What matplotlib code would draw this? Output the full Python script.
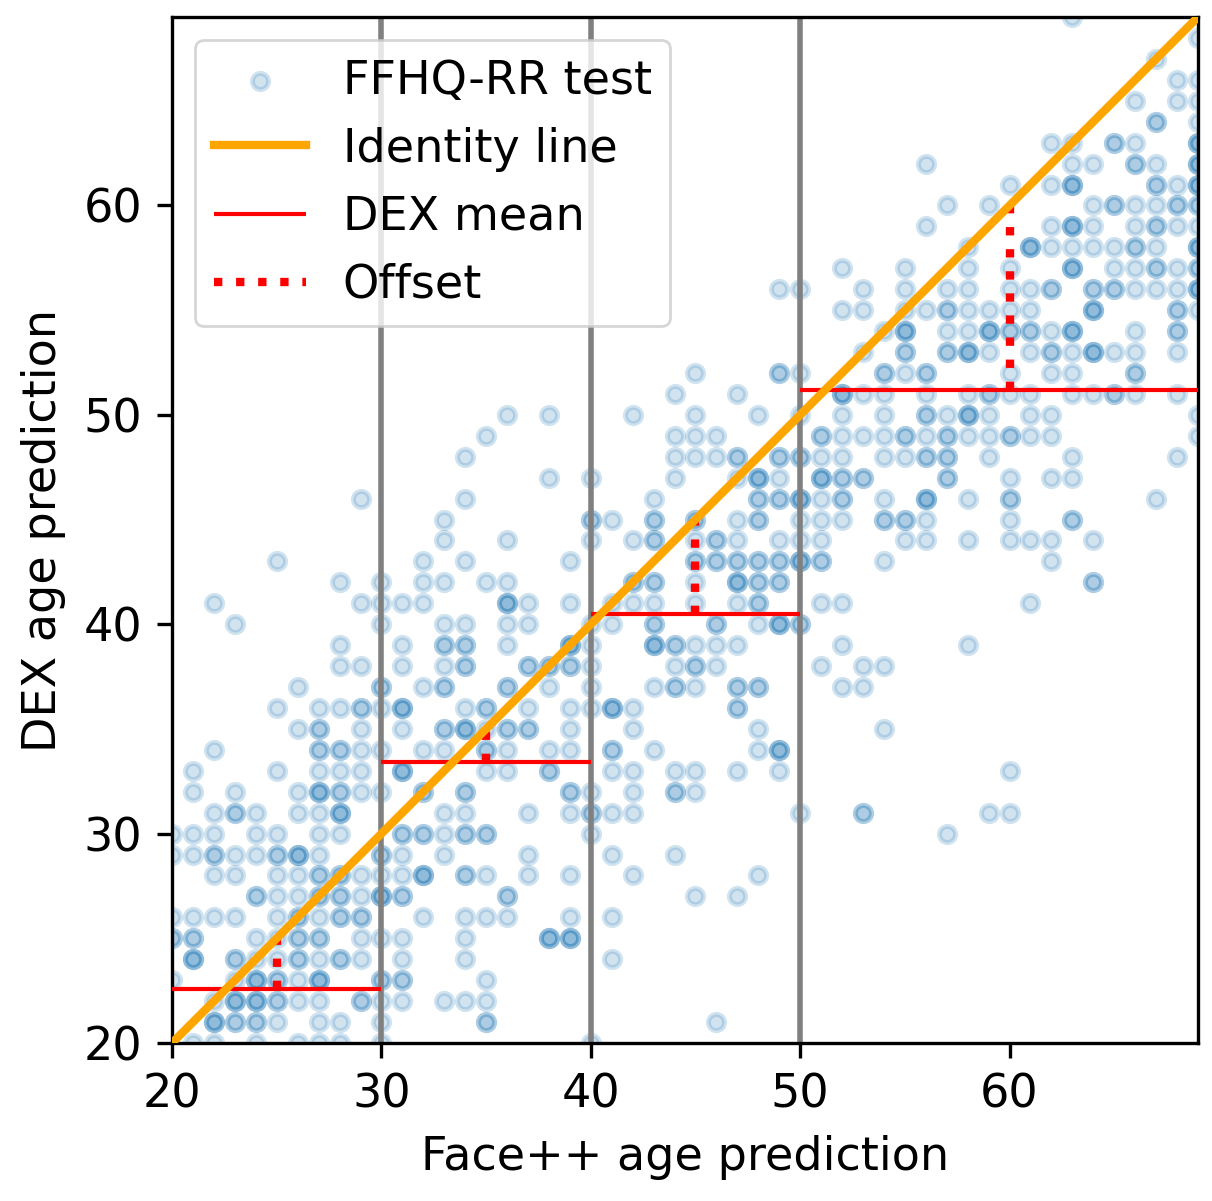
import numpy as np
import matplotlib
matplotlib.use("Agg")
import matplotlib.pyplot as plt

# DEX age values (rows) and the Face++ ages observed at each (repeats = overlapping points)
dex_values = [69, 68, 67, 66, 65, 64, 63, 62, 61, 60, 59, 58, 57, 56, 55, 54, 53,
              52, 51, 50, 49, 48, 47, 46, 45, 44, 43, 42, 41, 40, 39, 38, 37,
              36, 35, 34, 33, 32, 31, 30, 29, 28, 27, 26, 25, 24, 23, 22, 21, 20]
face_pp_by_dex = [
    [63],
    [69],
    [67],
    [68, 69],
    [66, 68, 69],
    [67, 67, 69],
    [62, 63, 65, 65, 66, 69, 69, 69],
    [56, 63, 64, 66, 66, 67, 69, 69, 69],
    [60, 62, 63, 63, 63, 67, 67, 68, 69, 69, 69],
    [57, 59, 64, 65, 65, 66, 67, 68, 68, 69, 69],
    [56, 62, 63, 63, 63, 64, 66, 67, 67, 68, 69],
    [58, 61, 61, 61, 62, 63, 64, 65, 66, 66, 67, 69, 69, 69],
    [52, 55, 58, 60, 63, 63, 63, 65, 66, 67, 67, 68, 69, 69],
    [49, 50, 53, 55, 57, 58, 60, 61, 62, 62, 64, 64, 65, 65, 66, 67, 68, 69, 69, 69],
    [52, 53, 55, 56, 57, 57, 58, 59, 60, 61, 64, 64, 64, 68, 68, 69],
    [54, 55, 55, 55, 57, 58, 59, 59, 59, 60, 60, 61, 61, 62, 63, 63, 63, 66, 68, 68],
    [53, 55, 55, 57, 57, 58, 58, 58, 59, 61, 62, 62, 63, 64, 64, 64, 65, 66, 68],
    [45, 49, 49, 50, 54, 54, 55, 56, 56, 60, 62, 63, 66, 66],
    [44, 47, 52, 52, 52, 53, 54, 56, 58, 59, 59, 60, 61, 63, 64, 65, 65, 66, 68],
    [36, 38, 42, 45, 48, 50, 52, 54, 56, 56, 57, 58, 58, 58, 59, 61, 62, 69],
    [35, 44, 45, 46, 51, 51, 52, 53, 54, 55, 55, 56, 57, 57, 58, 59, 60, 60, 61, 62, 69],
    [34, 44, 45, 46, 47, 47, 49, 49, 50, 50, 51, 52, 54, 55, 56, 56, 57, 57, 59, 63, 68],
    [38, 40, 44, 47, 48, 48, 48, 49, 51, 51, 51, 52, 52, 53, 53, 57, 57, 60, 62, 63],
    [29, 34, 43, 48, 48, 49, 49, 50, 50, 50, 51, 52, 52, 54, 56, 56, 56, 58, 60, 60, 67],
    [33, 40, 40, 41, 43, 43, 45, 45, 47, 48, 48, 50, 51, 52, 54, 54, 55, 55, 56, 60, 63, 63],
    [33, 36, 40, 42, 43, 43, 45, 46, 46, 47, 49, 50, 51, 55, 56, 58, 60, 61, 62, 64],
    [25, 32, 34, 39, 45, 45, 46, 46, 47, 47, 48, 48, 49, 49, 50, 50, 50, 51, 51, 54, 62],
    [28, 30, 32, 33, 35, 36, 42, 42, 43, 43, 45, 47, 47, 47, 48, 48, 49, 49, 64, 64],
    [22, 29, 30, 31, 32, 36, 36, 36, 37, 39, 41, 42, 43, 45, 47, 48, 48, 51, 52, 61],
    [23, 30, 33, 34, 36, 37, 40, 41, 43, 43, 46, 46, 48, 49, 49, 49, 50, 50],
    [28, 31, 33, 33, 34, 34, 36, 39, 39, 39, 40, 43, 43, 43, 44, 44, 45, 46, 47, 52, 58],
    [28, 29, 31, 33, 34, 34, 37, 37, 38, 38, 39, 39, 40, 44, 45, 45, 46, 51, 53, 54],
    [26, 30, 30, 32, 33, 33, 36, 36, 38, 40, 43, 44, 44, 45, 47, 47, 48, 48, 52, 53],
    [25, 27, 28, 29, 29, 30, 31, 31, 31, 34, 35, 35, 37, 39, 40, 41, 41, 41, 42, 47, 47],
    [26, 27, 27, 29, 31, 33, 33, 34, 34, 34, 35, 36, 36, 37, 37, 39, 42, 48, 54],
    [22, 27, 27, 28, 28, 29, 30, 32, 33, 35, 35, 36, 38, 39, 41, 41, 43, 48, 49, 49, 49],
    [21, 25, 27, 28, 29, 31, 31, 31, 35, 36, 38, 38, 41, 42, 44, 45, 47, 49, 60],
    [21, 23, 26, 27, 27, 27, 28, 28, 29, 30, 32, 32, 34, 34, 39, 39, 40, 42, 44, 44, 45],
    [22, 23, 23, 24, 26, 27, 28, 28, 28, 33, 34, 37, 39, 40, 40, 41, 42, 50, 53, 53, 59, 60],
    [20, 21, 22, 24, 25, 27, 28, 31, 31, 32, 32, 33, 34, 34, 35, 35, 40, 57],
    [20, 21, 22, 22, 23, 24, 25, 25, 26, 26, 26, 27, 30, 30, 31, 33, 37, 41, 44],
    [22, 23, 25, 26, 27, 27, 28, 28, 29, 30, 31, 32, 32, 32, 34, 34, 35, 37, 39, 42, 48],
    [24, 24, 25, 26, 27, 27, 28, 28, 29, 30, 30, 30, 31, 31, 36, 36, 45, 47],
    [20, 21, 22, 23, 25, 26, 26, 27, 28, 28, 29, 29, 32, 34, 35, 36, 39, 41],
    [20, 20, 21, 21, 24, 25, 26, 26, 27, 27, 29, 30, 31, 34, 38, 38, 38, 39, 39, 39],
    [21, 21, 21, 23, 23, 24, 25, 26, 26, 27, 28, 28, 29, 31, 34, 41],
    [20, 23, 24, 24, 24, 25, 25, 26, 27, 27, 27, 30, 30, 31, 31, 35],
    [22, 23, 23, 23, 24, 24, 24, 25, 25, 26, 27, 29, 29, 30, 31, 33, 34, 35],
    [22, 22, 22, 23, 23, 24, 24, 25, 27, 28, 30, 35, 35, 46],
    [21, 22, 24, 26, 27, 28, 30, 40],
]

# binned DEX means and where the offset to the identity line is measured
bin_edges = [20, 30, 40, 50, 69]
dex_means = [22.6, 33.4, 40.5, 51.2]
offset_at = [25, 35, 45, 60]

face_pp = []
dex = []
for d, row in zip(dex_values, face_pp_by_dex):
    face_pp += row
    dex += [d] * len(row)
face_pp = np.array(face_pp)
dex = np.array(dex)

plt.rcParams["font.size"] = 16.6
plt.rcParams["axes.linewidth"] = 1.2
plt.rcParams["axes.labelpad"] = 6.2
for a in ("xtick", "ytick"):
    plt.rcParams[a + ".major.size"] = 5.4
    plt.rcParams[a + ".major.width"] = 1.2
    plt.rcParams[a + ".major.pad"] = 5.4

fig, ax = plt.subplots(figsize=(6.06, 6.005), dpi=200)
fig.subplots_adjust(left=0.142, right=0.9884, bottom=0.1316, top=0.9858)

ax.scatter(face_pp, dex, s=34, alpha=0.2, color="C0", linewidths=1.8,
           label="FFHQ-RR test")

for e in bin_edges[1:-1]:
    ax.axvline(e, color="gray", lw=2)

ax.plot([20, 69], [20, 69], color="orange", lw=3, label="Identity line", zorder=4)

for i in range(len(dex_means)):
    ax.hlines(dex_means[i], bin_edges[i], bin_edges[i + 1], color="red", lw=1.5,
              label="DEX mean" if i == 0 else None, zorder=3)
    ax.vlines(offset_at[i], dex_means[i], offset_at[i], color="red", lw=3,
              linestyles=":", label="Offset" if i == 0 else None, zorder=3)

ax.set_xlim(20, 69)
ax.set_ylim(20, 69)
ax.set_xticks([20, 30, 40, 50, 60])
ax.set_yticks([20, 30, 40, 50, 60])
ax.set_xlabel("Face++ age prediction")
ax.set_ylabel("DEX age prediction")
ax.legend(loc="upper left")

fig.savefig("out.png", dpi=200)
